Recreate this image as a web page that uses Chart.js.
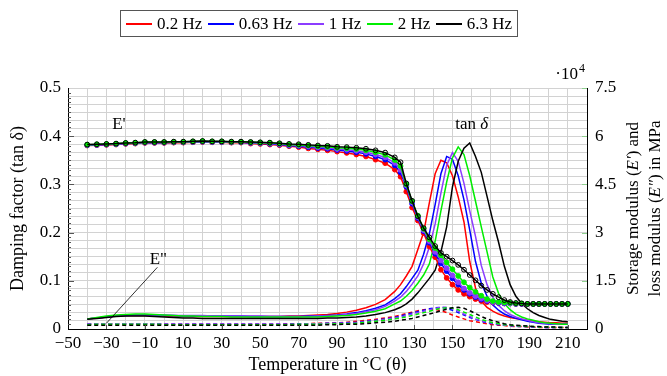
<!DOCTYPE html>
<html>
<head>
<meta charset="utf-8">
<script src="https://cdn.jsdelivr.net/npm/chart.js@4.4.1/dist/chart.umd.min.js"></script>
<style>
  html, body { margin: 0; padding: 0; background: #fff; }
  #wrap { position: relative; width: 667px; height: 376px; }
  #legend {
    position: absolute; left: 120px; top: 10px; width: 398px; height: 27px;
    box-sizing: border-box; border: 1px solid #555; padding: 0 5px;
    display: flex; align-items: center; justify-content: space-between;
    font: 17px "Liberation Serif", serif; color: #000; white-space: nowrap;
  }
  .item { display: flex; align-items: center; }
  .swatch { width: 26px; height: 2px; margin-right: 5px; }
</style>
</head>
<body>
<div id="wrap">
  <canvas id="dma" width="667" height="376"></canvas>
  <div id="legend"></div>
</div>
<script>
const FONT = '"Liberation Serif", serif';

// temperature in °C (5 K steps, then 3 K steps through the transition)
const temps = [-40,-35,-30,-25,-20,-15,-10,-5,0,5,10,15,20,25,30,35,40,45,50,55,60,65,70,75,80,85,90,95,100,105,110,115,120,
  123,126,129,132,135,138,141,144,147,150,153,156,159,162,165,168,171,174,177,180,183,186,189,192,195,198,201,204,207,210];

const freqs = ['0.2 Hz', '0.63 Hz', '1 Hz', '2 Hz', '6.3 Hz'];
const colors = ['#ff0000', '#0000ff', '#8c3cff', '#00ee00', '#000000'];

// storage modulus E' (MPa)
const storage02 = [57100,57200,57300,57400,57600,57700,57900,57900,57900,58000,58000,58100,58200,58100,58100,58000,58000,57700,57600,57400,57200,56900,56600,56200,55900,55600,55200,54800,54300,53700,52700,51600,49600,
  47400,42750,37800,33750,29850,25650,22350,18450,15900,13800,12150,10950,10050,9300,8700,8400,8250,8100,7950,7950,7800,7800,7800,7800,7800,7800,7800,7800,7800,7800];
const storage063 = [57200,57300,57400,57500,57700,57800,58000,58000,58000,58100,58100,58200,58300,58200,58200,58100,58100,57900,57800,57600,57400,57100,56900,56600,56300,56100,55700,55400,55000,54500,53700,52700,50900,
  48750,44250,39000,34500,30450,26850,23400,20400,18000,15750,13800,12150,10950,9900,9150,8700,8400,8100,7950,7950,7800,7800,7800,7800,7800,7800,7800,7800,7800,7800];
const storage1 = [57250,57350,57450,57550,57750,57850,58050,58050,58050,58150,58150,58250,58350,58250,58250,58150,58150,58000,57900,57750,57550,57250,57100,56850,56550,56400,56000,55800,55450,55000,54300,53400,51700,
  49500,44700,39450,34800,30750,27300,24000,21300,18900,16650,14550,12600,11250,10200,9450,8850,8400,8250,8100,7950,7950,7800,7800,7800,7800,7800,7800,7800,7800,7800];
const storage2 = [57350,57450,57550,57650,57850,57950,58150,58150,58150,58250,58250,58350,58450,58350,58350,58250,58250,58100,58000,57900,57700,57450,57300,57100,56850,56700,56400,56250,56000,55600,55000,54200,52600,
  50700,45000,39750,35250,31200,27900,25200,22950,20700,18600,16500,14550,12900,11550,10350,9300,8700,8400,8250,8100,7950,7950,7800,7800,7800,7800,7800,7800,7800,7800];
const storage63 = [57400,57500,57600,57700,57900,58000,58200,58200,58200,58300,58300,58400,58500,58400,58400,58300,58300,58200,58100,58000,57800,57600,57500,57300,57100,57000,56700,56600,56400,56100,55600,54900,53400,
  51900,45300,39900,35100,31400,28500,25800,23700,22500,21300,19950,18450,16800,15150,13500,12150,10950,9900,9000,8400,8100,7950,7800,7800,7800,7800,7800,7800,7800,7800];

// damping factor tan delta
const tan02 = [.021,.023,.025,.027,.028,.028,.028,.028,.027,.027,.026,.026,.026,.026,.026,.026,.026,.026,.026,.026,.026,.027,.027,.028,.029,.030,.032,.035,.039,.044,.051,.061,.078,
  .092,.110,.130,.165,.200,.262,.322,.350,.345,.318,.274,.222,.140,.085,.058,.045,.037,.031,.027,.024,.022,.020,.018,.016,.015,.014,.013,.013,.012,.012];
const tan063 = [.021,.023,.025,.027,.028,.029,.029,.029,.028,.028,.027,.027,.027,.027,.027,.027,.027,.026,.026,.026,.026,.026,.026,.027,.027,.028,.029,.031,.034,.038,.043,.050,.063,
  .073,.088,.105,.122,.155,.198,.258,.322,.358,.352,.318,.268,.205,.140,.095,.068,.050,.039,.031,.026,.022,.019,.016,.014,.012,.011,.010,.010,.010,.010];
const tan1 = [.021,.023,.025,.027,.029,.029,.029,.029,.029,.028,.028,.028,.028,.027,.027,.027,.027,.027,.027,.026,.026,.026,.026,.026,.027,.027,.028,.030,.032,.036,.040,.047,.058,
  .066,.078,.093,.110,.135,.170,.218,.282,.340,.366,.348,.302,.245,.192,.132,.092,.066,.049,.038,.030,.025,.021,.018,.015,.013,.012,.011,.010,.010,.010];
const tan2 = [.021,.024,.027,.029,.030,.031,.031,.030,.029,.028,.027,.027,.026,.026,.026,.025,.025,.025,.025,.025,.025,.025,.025,.025,.025,.026,.027,.028,.030,.033,.037,.042,.052,
  .058,.068,.080,.095,.112,.135,.182,.245,.305,.355,.378,.362,.318,.265,.212,.160,.108,.074,.053,.040,.031,.025,.021,.018,.015,.013,.012,.011,.010,.010];
const tan63 = [.020,.022,.024,.026,.027,.027,.027,.026,.025,.024,.023,.023,.022,.022,.022,.022,.022,.022,.022,.022,.022,.022,.022,.022,.022,.023,.023,.024,.025,.027,.030,.034,.040,
  .045,.052,.062,.075,.090,.105,.122,.160,.212,.295,.348,.375,.386,.358,.325,.275,.225,.180,.130,.092,.068,.053,.042,.034,.028,.024,.020,.018,.016,.015];

// loss modulus E'' (MPa)
const loss02 = [1500,1650,1650,1650,1650,1650,1650,1650,1500,1500,1500,1500,1500,1500,1500,1500,1500,1500,1500,1500,1500,1650,1650,1650,1800,1800,1950,2100,2400,2700,3000,3450,3900,
  4350,4800,5250,5700,6000,6150,6150,5700,5100,4350,3750,3150,2550,2250,1950,1650,1350,1200,1050,900,750,750,600,600,450,450,450,450,450,450];
const loss063 = [1500,1650,1650,1650,1650,1650,1650,1650,1500,1500,1500,1500,1500,1500,1500,1500,1500,1500,1500,1500,1500,1500,1650,1650,1650,1800,1800,1950,2100,2400,2700,3150,3600,
  4050,4500,4950,5400,5850,6300,6600,6750,6450,5850,5100,4350,3600,3000,2400,1950,1650,1350,1200,1050,900,750,750,600,600,450,450,450,450,450];
const loss1 = [1500,1650,1650,1650,1650,1650,1650,1650,1500,1500,1500,1500,1500,1500,1500,1500,1500,1500,1500,1500,1500,1500,1500,1650,1650,1650,1800,1800,1950,2250,2550,3000,3450,
  3750,4200,4650,5100,5550,6000,6450,6750,6750,6300,5550,4650,3900,3150,2550,2100,1800,1500,1200,1050,900,750,750,600,600,450,450,450,450,450];
const loss2 = [1350,1500,1500,1500,1500,1500,1500,1500,1350,1350,1350,1350,1350,1350,1350,1350,1350,1350,1350,1350,1350,1350,1500,1500,1500,1500,1650,1650,1800,2100,2400,2700,3150,
  3450,3750,4200,4650,5100,5550,6000,6450,6600,6450,6000,5250,4500,3750,3000,2400,1950,1650,1350,1200,1050,900,750,750,600,600,600,450,450,450];
const loss63 = [1200,1200,1200,1200,1200,1200,1200,1200,1200,1200,1200,1200,1200,1200,1200,1200,1200,1200,1200,1200,1200,1200,1200,1200,1200,1350,1350,1500,1500,1650,1950,2100,2400,
  2700,3000,3300,3750,4200,4650,5100,5700,6150,6600,6750,6450,5700,4800,3900,3150,2550,2100,1650,1350,1200,1050,900,750,750,600,600,600,450,450];

const storage = [storage02, storage063, storage1, storage2, storage63];
const tanDelta = [tan02, tan063, tan1, tan2, tan63];
const loss = [loss02, loss063, loss1, loss2, loss63];

const pts = arr => arr.map((v, i) => ({ x: temps[i], y: v }));

const datasets = [];
freqs.forEach((f, i) => {
  const c = colors[i];
  const top = 4 - i; // 6.3 Hz drawn on top
  datasets.push({
    label: f + " E'", data: pts(storage[i]), yAxisID: 'yR',
    borderColor: c, backgroundColor: c, borderWidth: 1.5, tension: 0,
    pointRadius: 2.4, pointBorderWidth: 1, pointBorderColor: c,
    pointBackgroundColor: i === 4 ? 'rgba(0,0,0,0)' : c, order: top
  });
  datasets.push({
    label: f + ' tan d', data: pts(tanDelta[i]), yAxisID: 'yL',
    borderColor: c, borderWidth: 1.5, tension: 0, pointRadius: 0, order: 10 + top
  });
  datasets.push({
    label: f + " E''", data: pts(loss[i]), yAxisID: 'yR',
    borderColor: c, borderWidth: 1.5, borderDash: [4, 3], tension: 0, pointRadius: 0, order: 20 + top
  });
});

// draw a line of text made of normal / italic pieces
function drawRuns(ctx, runs, x, y, size, align) {
  const widths = runs.map(r => { ctx.font = (r[1] ? 'italic ' : '') + size + 'px ' + FONT; return ctx.measureText(r[0]).width; });
  const total = widths.reduce((a, b) => a + b, 0);
  let cx = align === 'center' ? x - total / 2 : align === 'right' ? x - total : x;
  ctx.textAlign = 'left';
  runs.forEach((r, k) => {
    ctx.font = (r[1] ? 'italic ' : '') + size + 'px ' + FONT;
    ctx.fillText(r[0], cx, y);
    cx += widths[k];
  });
}

// pgfplots style tick marks pointing into the plot
const innerTicks = {
  id: 'innerTicks',
  afterDatasetsDraw(chart) {
    const { ctx, chartArea } = chart;
    const { x, yL, yR } = chart.scales;
    ctx.save();
    ctx.lineWidth = 1;
    ctx.strokeStyle = '#555';
    ctx.beginPath();
    for (let k = 1; k < 50; k++) {
      const py = Math.round(yL.getPixelForValue(k / 100)) + 0.5;
      const len = k % 10 === 0 ? 6 : 3;
      ctx.moveTo(chartArea.left, py);
      ctx.lineTo(chartArea.left + len, py);
    }
    for (let v = -30; v <= 210; v += 20) {
      const px = Math.round(x.getPixelForValue(v)) + 0.5;
      ctx.moveTo(px, chartArea.bottom);
      ctx.lineTo(px, chartArea.bottom - 4);
    }
    ctx.stroke();
    ctx.strokeStyle = '#8fd08f';
    ctx.beginPath();
    for (let v = 15000; v <= 75000; v += 15000) {
      const py = Math.round(yR.getPixelForValue(v)) + 0.5;
      ctx.moveTo(chartArea.right, py);
      ctx.lineTo(chartArea.right - 5, py);
    }
    ctx.stroke();
    ctx.restore();
  }
};

const notes = {
  id: 'notes',
  afterDraw(chart) {
    const { ctx, chartArea, scales } = chart;
    const x = scales.x, yL = scales.yL;
    ctx.save();
    ctx.fillStyle = '#000';
    ctx.textBaseline = 'middle';

    drawRuns(ctx, [["E'", false]], x.getPixelForValue(-27), yL.getPixelForValue(0.425), 17, 'left');
    drawRuns(ctx, [['tan ', false], ['δ', true]], x.getPixelForValue(160), yL.getPixelForValue(0.425), 17, 'center');
    drawRuns(ctx, [['E"', false]], x.getPixelForValue(-7.5), yL.getPixelForValue(0.145), 17, 'left');

    ctx.strokeStyle = '#000';
    ctx.lineWidth = 0.8;
    ctx.beginPath();
    ctx.moveTo(x.getPixelForValue(-3.5), yL.getPixelForValue(0.128));
    ctx.lineTo(x.getPixelForValue(-30), yL.getPixelForValue(0.012));
    ctx.stroke();

    // exponent of the right axis
    ctx.textAlign = 'right';
    ctx.font = '12px ' + FONT;
    ctx.fillText('4', chartArea.right - 2, 69);
    ctx.font = '17px ' + FONT;
    ctx.fillText('·10', chartArea.right - 9, 75);

    // right axis title, reading upwards
    const cy = (chartArea.top + chartArea.bottom) / 2;
    ctx.translate(chartArea.right + 47, cy);
    ctx.rotate(-Math.PI / 2);
    drawRuns(ctx, [['Storage modulus (', false], ['E′', true], [') and', false]], 0, 0, 17, 'center');
    drawRuns(ctx, [['loss modulus (', false], ['E″', true], [') in MPa', false]], 0, 22, 17, 'center');
    ctx.restore();
  }
};

const gridColor = '#d2d2d2';
const minus = v => (v < 0 ? '\u2212' + Math.abs(v) : String(v));

new Chart(document.getElementById('dma'), {
  type: 'line',
  data: { datasets },
  options: {
    responsive: false,
    animation: false,
    layout: { padding: { top: 88, left: 0, right: 0, bottom: 0 } },
    plugins: { legend: { display: false }, tooltip: { enabled: false } },
    scales: {
      x: {
        type: 'linear', min: -50, max: 220,
        afterFit: s => { s.height = 47; },
        border: { display: true, color: '#000', width: 1 },
        grid: { color: gridColor, drawTicks: false },
        ticks: {
          stepSize: 10, autoSkip: false, maxRotation: 0, padding: 4, color: '#000',
          font: { family: FONT, size: 17 },
          callback: v => ((v + 50) % 20 === 0 && v <= 210 ? minus(v) : '')
        },
        title: { display: true, text: 'Temperature in °C (θ)', color: '#000', font: { family: FONT, size: 18 }, padding: { top: 0, bottom: 0 } }
      },
      yL: {
        position: 'left', min: 0, max: 0.5,
        afterFit: s => { s.width = 68; },
        border: { display: true, color: '#000', width: 1 },
        grid: { drawOnChartArea: false, drawTicks: false },
        ticks: {
          stepSize: 0.1, padding: 7, color: '#000', font: { family: FONT, size: 17 },
          callback: v => String(Number(v.toFixed(2)))
        },
        title: { display: true, text: 'Damping factor (tan δ)', color: '#000', font: { family: FONT, size: 18 }, padding: { top: 7, bottom: 0 } }
      },
      yR: {
        position: 'right', min: 0, max: 75000,
        afterFit: s => { s.width = 80; },
        border: { display: true, color: '#000', width: 1 },
        grid: { color: gridColor, drawTicks: false },
        ticks: {
          stepSize: 2500, autoSkip: false, padding: 8, color: '#000', font: { family: FONT, size: 17 },
          callback: v => (v % 15000 === 0 ? String(v / 10000) : '')
        }
      }
    }
  },
  plugins: [innerTicks, notes]
});

// html legend, one entry per frequency
const legend = document.getElementById('legend');
freqs.forEach((f, i) => {
  const item = document.createElement('span');
  item.className = 'item';
  item.innerHTML = '<span class="swatch" style="background:' + colors[i] + '"></span>' + f;
  legend.appendChild(item);
});
</script>
</body>
</html>
